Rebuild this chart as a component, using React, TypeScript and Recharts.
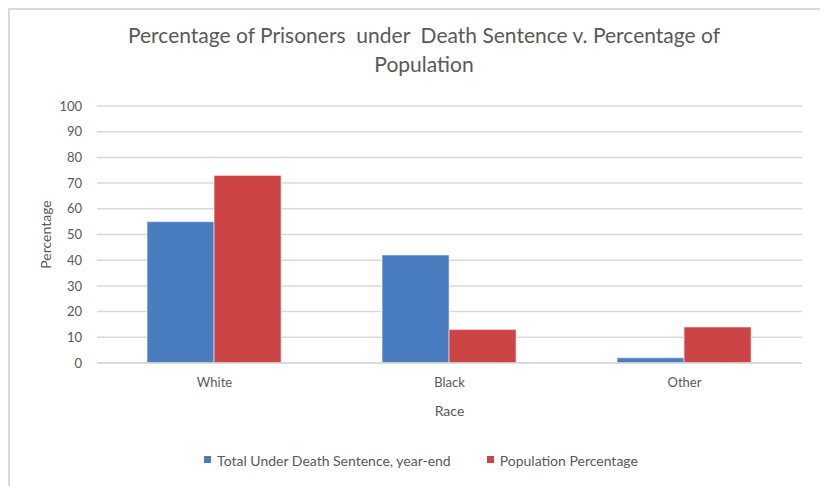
import { BarChart, Bar, XAxis, YAxis, CartesianGrid, Label } from "recharts";

const races = ["White", "Black", "Other"];
const deathRow = [55, 42, 2];
const population = [73, 13, 14];
const yTicks = [0, 10, 20, 30, 40, 50, 60, 70, 80, 90, 100];
const titleLines = [
  "Percentage of Prisoners  under  Death Sentence v. Percentage of",
  "Population",
];

const series = [
  { key: "deathRow", name: "Total Under Death Sentence, year-end", color: "#4a7dc0" },
  { key: "population", name: "Population Percentage", color: "#cc4443" },
];

const data = races.map((race, i) => ({
  race,
  deathRow: deathRow[i],
  population: population[i],
}));

const FONT = "Lato, 'Open Sans', sans-serif";
const TEXT = "#595959";

// rotated y-axis caption, centered on the plot height
function YCaption({ viewBox }: { viewBox?: { x: number; y: number; width: number; height: number } }) {
  if (!viewBox) return null;
  const cx = viewBox.x + 8;
  const cy = viewBox.y + viewBox.height / 2;
  return (
    <text
      x={cx}
      y={cy}
      transform={`rotate(-90 ${cx} ${cy})`}
      textAnchor="middle"
      dominantBaseline="central"
      fill={TEXT}
      fontSize={14}
      fontFamily={FONT}
    >
      Percentage
    </text>
  );
}

export default function App() {
  return (
    <div
      style={{
        position: "relative",
        width: 812,
        height: 480,
        border: "2px solid #d9d9d9",
        borderBottom: "none",
        background: "#fff",
        fontFamily: FONT,
      }}
    >
      <div
        style={{
          position: "absolute",
          top: 10,
          left: 8,
          width: 812,
          textAlign: "center",
          fontSize: 21,
          lineHeight: "29px",
          color: TEXT,
        }}
      >
        {titleLines.map((l) => (
          <div key={l} style={{ whiteSpace: "pre" }}>{l}</div>
        ))}
      </div>

      <BarChart
        width={810}
        height={476}
        data={data}
        margin={{ top: 96, right: 18, left: 27, bottom: 68 }}
        barCategoryGap="21.3%"
        barGap={0}
      >
        <CartesianGrid vertical={false} stroke="#d9d9d9" strokeWidth={1.5} />
        <XAxis
          dataKey="race"
          axisLine={{ stroke: "#d9d9d9", strokeWidth: 1.5 }}
          tickLine={false}
          tickMargin={9}
          height={55}
          tick={{ fontSize: 13, fill: TEXT, fontFamily: FONT }}
        >
          <Label value="Race" position="insideBottom" offset={2} fill={TEXT} fontSize={14} fontFamily={FONT} />
        </XAxis>
        <YAxis
          domain={[0, 100]}
          ticks={yTicks}
          interval={0}
          width={60}
          axisLine={false}
          tickLine={false}
          tickMargin={9}
          tick={{ fontSize: 13, fill: TEXT, fontFamily: FONT }}
        >
          <Label content={<YCaption />} />
        </YAxis>
        {series.map((s) => (
          <Bar
            key={s.key}
            dataKey={s.key}
            name={s.name}
            fill={s.color}
            stroke="#e8eef6"
            strokeWidth={0.6}
            isAnimationActive={false}
          />
        ))}
      </BarChart>

      <div
        style={{
          position: "absolute",
          top: 443,
          left: 6,
          width: 810,
          display: "flex",
          justifyContent: "center",
          gap: 36,
          fontSize: 14,
          color: TEXT,
          lineHeight: "16px",
        }}
      >
        {series.map((s) => (
          <div key={s.key} style={{ display: "flex", alignItems: "center" }}>
            <span
              style={{
                display: "inline-block",
                width: 7,
                height: 7,
                background: s.color,
                marginRight: 6,
                marginTop: -4,
              }}
            />
            {s.name}
          </div>
        ))}
      </div>
    </div>
  );
}
